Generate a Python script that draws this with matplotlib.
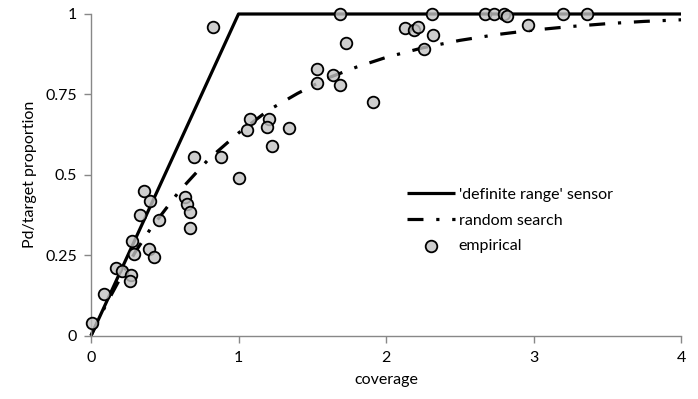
import matplotlib
matplotlib.use("Agg")
import matplotlib.pyplot as plt

plt.rcParams['font.family'] = ['Lato', 'DejaVu Sans']

# definite range sensor (theory)
definite_x = [0, 1, 4]
definite_y = [0, 1, 1]

# random search (theory)
random_x = [0, 0.1, 0.2, 0.3, 0.4, 0.5, 0.6, 0.7, 0.8, 0.9, 1.0, 1.2, 1.4, 1.6, 1.8, 2.0,
            2.25, 2.5, 2.75, 3.0, 3.25, 3.5, 3.75, 4.0]
random_y = [0, 0.095, 0.18, 0.26, 0.33, 0.39, 0.45, 0.50, 0.55, 0.59, 0.63, 0.70, 0.753, 0.80,
            0.835, 0.865, 0.895, 0.918, 0.936, 0.95, 0.961, 0.97, 0.977, 0.982]

# empirical points
emp_x = [0.01, 0.09, 0.17, 0.21, 0.27, 0.265, 0.29, 0.28, 0.39, 0.43, 0.33, 0.46, 0.36, 0.40,
         0.64, 0.65, 0.67, 0.67, 0.70, 0.88, 1.00, 0.83, 1.08, 1.06, 1.21, 1.19, 1.23, 1.34,
         1.53, 1.53, 1.64, 1.69, 1.73, 1.91, 1.69, 2.13, 2.19, 2.22, 2.32, 2.26, 2.31, 2.67,
         2.73, 2.80, 2.82, 2.96, 3.20, 3.36]
emp_y = [0.04, 0.13, 0.21, 0.20, 0.19, 0.17, 0.255, 0.295, 0.27, 0.245, 0.375, 0.36, 0.45, 0.42,
         0.43, 0.41, 0.385, 0.335, 0.555, 0.555, 0.49, 0.96, 0.675, 0.64, 0.675, 0.65, 0.59, 0.645,
         0.83, 0.785, 0.81, 0.78, 0.91, 0.725, 1.0, 0.955, 0.95, 0.96, 0.935, 0.89, 1.0, 1.0,
         1.0, 1.0, 0.995, 0.965, 1.0, 1.0]

x_ticks = [0, 1, 2, 3, 4]
y_ticks = [0, 0.25, 0.5, 0.75, 1]
y_tick_labels = ['0', '0.25', '0.5', '0.75', '1']

fig = plt.figure(figsize=(6.98, 3.99), dpi=100)
ax = fig.add_axes([91/698, (399-335.7)/399, 590/698, 321.7/399])

ax.plot(definite_x, definite_y, color='black', lw=2.3, solid_capstyle='butt',
        label="'definite range' sensor", clip_on=False, zorder=2)
ax.plot(random_x, random_y, color='black', lw=2.3, linestyle=(0, (5, 4, 1, 4)),
        dash_capstyle='butt', label='random search', clip_on=False, zorder=2)
ax.scatter(emp_x, emp_y, s=70, facecolor=(0.76, 0.76, 0.76, 0.8), edgecolor='black',
           linewidth=1.3, label='empirical', clip_on=False, zorder=3)

ax.set_xlim(0, 4)
ax.set_ylim(0, 1)
ax.set_xticks(x_ticks)
ax.set_yticks(y_ticks)
ax.set_yticklabels(y_tick_labels)

for s in ['top', 'right']:
    ax.spines[s].set_visible(False)
for s in ['left', 'bottom']:
    ax.spines[s].set_color('#888888')
    ax.spines[s].set_linewidth(1.0)
ax.tick_params(axis='both', colors='#888888', length=5, width=1.0, direction='out',
               labelcolor='black', labelsize=11.5)
ax.tick_params(axis='x', pad=6)
ax.tick_params(axis='y', pad=5)

ax.set_xlabel('coverage', fontsize=11.5, labelpad=6)
ax.set_ylabel('Pd/target proportion', fontsize=11.5, labelpad=6)

leg = ax.legend(loc='upper left', bbox_to_anchor=(0.535, 0.46), frameon=False,
                fontsize=11.5, handlelength=3.0, handletextpad=0.25, labelspacing=0.72,
                borderpad=0, borderaxespad=0)

fig.savefig('out.png', dpi=100)
